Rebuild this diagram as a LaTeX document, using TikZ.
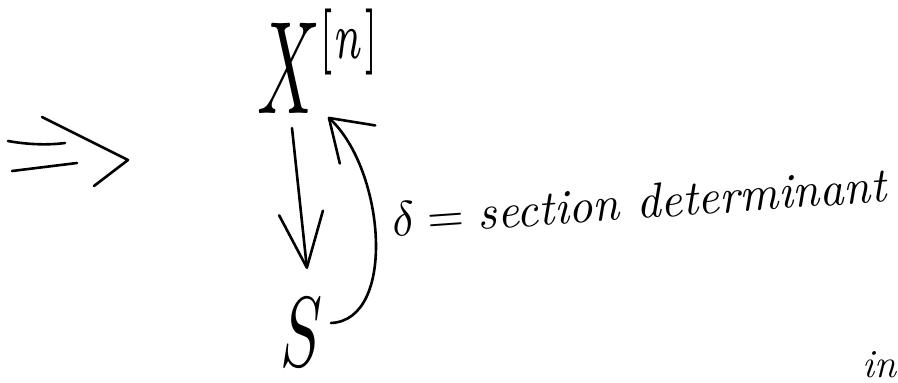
\documentclass[tikz,border=0pt]{standalone}
\usepackage{graphicx}
\usetikzlibrary{arrows.meta,calc}
\begin{document}
\begin{tikzpicture}[x=1pt,y=-1pt,
  pen/.style={line width=2.6pt,line cap=round,line join=round},
  lbl/.style={inner sep=0pt,outer sep=0pt},
]
\useasboundingbox (0,0) rectangle (898,383);
\clip (0,0) rectangle (898,383);
% implication arrow
\draw[pen] (8,141) .. controls (30,145) and (50,145) .. (65,143);
\draw[pen] (12,171) -- (77,163);
\draw[pen] (42,117) -- (128,160) -- (94,186);
% nodes
\node[lbl,anchor=north west] (X) at (257,9) {\resizebox{125pt}{104pt}{$X^{\raisebox{0.5pt}{$\scriptscriptstyle[n]$}}$}};
\node[lbl,anchor=north west] (S) at (280,298) {\resizebox{42pt}{68pt}{$S$}};
\node[lbl,anchor=base west,rotate=4] (d) at (393,236) {\resizebox{495pt}{34pt}{$\delta=\textit{section determinant}$}};
\node[lbl,anchor=base west] (in) at (862,377) {\fontsize{40}{40}\selectfont\itshape in};
% connectors
\draw[pen,-{Straight Barb[length=55pt,width=44pt,round]}] ($(X.south west)+(35,15)$) -- ($(S.north west)+(27,-29)$);
\draw[pen,-{Straight Barb[length=39pt,width=52pt,round]}] ($(S.north east)+(9,25)$) .. controls (397,320) and (385,170) .. ($(X.south west)+(71,4)$);
\end{tikzpicture}
\end{document}
